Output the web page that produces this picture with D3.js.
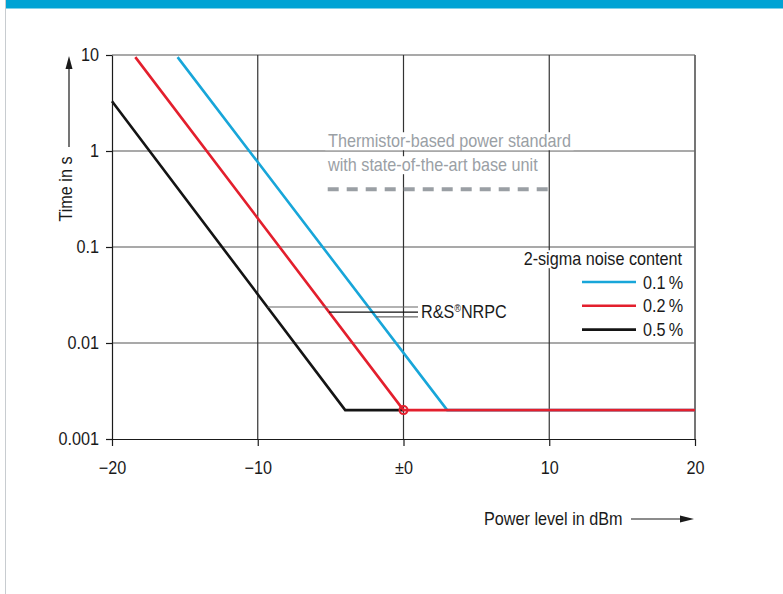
<!DOCTYPE html>
<html>
<head>
<meta charset="utf-8">
<script src="https://cdn.jsdelivr.net/npm/d3@7"></script>
<style>
  body { margin: 0; background: #fff; }
  svg text { font-family: 'Liberation Sans Narrow', 'Liberation Sans', Arial, sans-serif; }
</style>
</head>
<body>
<div id="chart"></div>
<script>
// ---- data ----
const xTicks = [-20, -10, 0, 10, 20]
const xTickLabels = ['\u221220', '\u221210', '\u00b10', '10', '20']
const yTicks = [0.001, 0.01, 0.1, 1, 10]
const yTickLabels = ['0.001', '0.01', '0.1', '1', '10']

const seriesNames = ['0.1\u2009%', '0.2\u2009%', '0.5\u2009%']
const seriesColors = ['#18a6d9', '#e31f2d', '#141414']

const blueLevel = [-15.5, 3, 20]
const blueTime = [9.5, 0.002, 0.002]
const redLevel = [-18.4, 0, 20]
const redTime = [9.5, 0.002, 0.002]
const blackLevel = [-20, -4, 0]
const blackTime = [3.3, 0.002, 0.002]

const refLevel = [-5.2, 10]
const refTime = [0.4, 0.4]

// where the R&S NRPC pointer lines leave each curve (black, red, blue)
const noteTimes = [0.0237, 0.021, 0.0187]

const width = 783
const height = 594
const squeeze = 0.9 // the original uses a condensed face

let svg = d3
  .select('#chart')
  .append('svg')
  .attr('width', width)
  .attr('height', height)

// text squeezed sideways around its anchor point
const addText = (parent, x, y, str, size, anchor) => {
  return parent
    .append('text')
    .text(str)
    .attr('transform', `translate(${x},${y}) scale(${squeeze},1)`)
    .style('text-anchor', anchor || 'start')
    .style('font-size', size + 'px')
    .attr('fill', '#1a1a1a')
}

// white box behind a label so grid lines stop at it
const knockOut = (txt) => {
  let b = txt.node().getBBox()
  let node = txt.node()
  d3.select(node.parentNode)
    .insert('rect', () => node)
    .attr('transform', txt.attr('transform'))
    .attr('x', b.x - 3)
    .attr('y', b.y + 1)
    .attr('width', b.width + 6)
    .attr('height', b.height - 2)
    .attr('fill', '#fff')
}

const condense = (sel) => {
  sel.each(function () {
    let t = d3.select(this)
    let tx = +t.attr('x') || 0
    let ty = +t.attr('y') || 0
    t.attr('transform', `translate(${tx},${ty}) scale(${squeeze},1)`).attr('x', 0).attr('y', 0)
  })
}

// top bar + left rule of the page
svg.append('rect').attr('x', 5).attr('y', 0).attr('width', width - 5).attr('height', 8.5).attr('fill', '#00a3d4')
svg.append('line').attr('x1', 5.5).attr('x2', 5.5).attr('y1', 0).attr('y2', height).attr('stroke', '#c8ccd0').attr('stroke-width', 1)

let x = d3.scaleLinear().domain([-20, 20]).range([112, 695])
let y = d3.scaleLog().domain([0.001, 10]).range([439, 55])

// grid
svg
  .append('g')
  .selectAll('line')
  .data(yTicks.slice(1))
  .enter()
  .append('line')
  .attr('x1', x(-20))
  .attr('x2', x(20))
  .attr('y1', (d) => y(d))
  .attr('y2', (d) => y(d))
  .attr('stroke', '#555')
  .attr('stroke-width', 1.2)

svg
  .append('g')
  .selectAll('line')
  .data(xTicks.slice(1))
  .enter()
  .append('line')
  .attr('x1', (d) => x(d))
  .attr('x2', (d) => x(d))
  .attr('y1', y(10))
  .attr('y2', y(0.001))
  .attr('stroke', (d) => (d === 20 ? '#666' : '#333'))
  .attr('stroke-width', (d) => (d === 20 ? 1.8 : 1.2))

// axes
let yAxis = d3
  .axisLeft(y)
  .tickValues(yTicks)
  .tickSize(6)
  .tickSizeOuter(0)
  .tickPadding(7)
  .tickFormat((d, i) => yTickLabels[i])

let xAxis = d3
  .axisBottom(x)
  .tickValues(xTicks)
  .tickSize(7)
  .tickSizeOuter(0)
  .tickPadding(15)
  .tickFormat((d, i) => xTickLabels[i])

svg.append('g').attr('class', 'y-axis').attr('transform', `translate(${x(-20)},0)`).call(yAxis)
svg.append('g').attr('class', 'x-axis').attr('transform', `translate(0,${y(0.001)})`).call(xAxis)

svg.selectAll('.y-axis, .x-axis').selectAll('text')
  .style('font-size', '18px')
  .attr('fill', '#1a1a1a')
  .call(condense)
svg.selectAll('.y-axis, .x-axis').selectAll('line, path')
  .attr('stroke', '#1a1a1a')
  .attr('stroke-width', 1.2)

// axis titles with arrows
svg
  .append('text')
  .text('Time in s')
  .attr('transform', `translate(72,189)rotate(-90)scale(${squeeze},1)`)
  .style('text-anchor', 'middle')
  .style('font-size', '18px')
  .attr('fill', '#1a1a1a')

svg.append('line').attr('x1', 69).attr('x2', 69).attr('y1', 147).attr('y2', 66).attr('stroke', '#1a1a1a').attr('stroke-width', 1.2)
svg.append('path').attr('d', 'M69,56 L72.5,69 L65.5,69 Z').attr('fill', '#1a1a1a')

addText(svg, 484, 525, 'Power level in dBm', 18)

svg.append('line').attr('x1', 631).attr('x2', 684).attr('y1', 519).attr('y2', 519).attr('stroke', '#1a1a1a').attr('stroke-width', 1.2)
svg.append('path').attr('d', 'M694,519 L680,515.5 L680,522.5 Z').attr('fill', '#1a1a1a')

// reference: thermistor-based standard
let line = d3
  .line()
  .x((d) => x(d[0]))
  .y((d) => y(d[1]))

svg
  .append('path')
  .datum(d3.zip(refLevel, refTime))
  .attr('d', line)
  .attr('fill', 'none')
  .attr('stroke', '#9a9fa4')
  .attr('stroke-width', 4)
  .attr('stroke-dasharray', '11 8')

let ref1 = addText(svg, 328, 147, 'Thermistor-based power standard', 18).attr('fill', '#9aa0a5')
let ref2 = addText(svg, 328, 171, 'with state-of-the-art base unit', 18).attr('fill', '#9aa0a5')
knockOut(ref1)
knockOut(ref2)

// NRPC curves
let curves = [
  d3.zip(blueLevel, blueTime),
  d3.zip(blackLevel, blackTime),
  d3.zip(redLevel, redTime),
]
let curveColors = [seriesColors[0], seriesColors[2], seriesColors[1]]

svg
  .append('g')
  .selectAll('path')
  .data(curves)
  .enter()
  .append('path')
  .attr('d', line)
  .attr('fill', 'none')
  .attr('stroke', (d, i) => curveColors[i])
  .attr('stroke-width', 2.6)
  .attr('stroke-linejoin', 'miter')

svg
  .append('circle')
  .attr('cx', x(redLevel[1]))
  .attr('cy', y(redTime[1]))
  .attr('r', 4)
  .attr('fill', 'none')
  .attr('stroke', seriesColors[1])
  .attr('stroke-width', 2)

// pointer lines to the R&S NRPC label, starting on the sloped part of each curve
const levelAt = (pts, t) => {
  let a = pts[0]
  let b = pts[1]
  let f = (Math.log10(t) - Math.log10(a[1])) / (Math.log10(b[1]) - Math.log10(a[1]))
  return a[0] + f * (b[0] - a[0])
}
let notePts = [d3.zip(blackLevel, blackTime), d3.zip(redLevel, redTime), d3.zip(blueLevel, blueTime)]
let noteColors = ['#666', '#111', '#666']

svg
  .append('g')
  .selectAll('line')
  .data(noteTimes)
  .enter()
  .append('line')
  .attr('x1', (d, i) => x(levelAt(notePts[i], d)))
  .attr('x2', 418)
  .attr('y1', (d) => y(d))
  .attr('y2', (d) => y(d))
  .attr('stroke', (d, i) => noteColors[i])
  .attr('stroke-width', 1.2)

let nrpc = addText(svg, 421, y(noteTimes[1]) + 6, '', 18)
nrpc.append('tspan').text('R&S')
nrpc.append('tspan').text('\u00ae').style('font-size', '10px').attr('dy', -6)
nrpc.append('tspan').text('NRPC').attr('dy', 6)

// legend
let legendTitle = addText(svg, 682, 265, '2-sigma noise content', 18, 'end')
knockOut(legendTitle)

let legend = svg
  .append('g')
  .selectAll('g')
  .data(seriesNames)
  .enter()
  .append('g')
  .attr('transform', (d, i) => `translate(0,${282 + i * 23.8})`)

legend
  .append('line')
  .attr('x1', 582)
  .attr('x2', 636)
  .attr('stroke', (d, i) => seriesColors[i])
  .attr('stroke-width', 2.6)

legend.each(function (d) {
  addText(d3.select(this), 643, 6.5, d, 18)
})
</script>
</body>
</html>
